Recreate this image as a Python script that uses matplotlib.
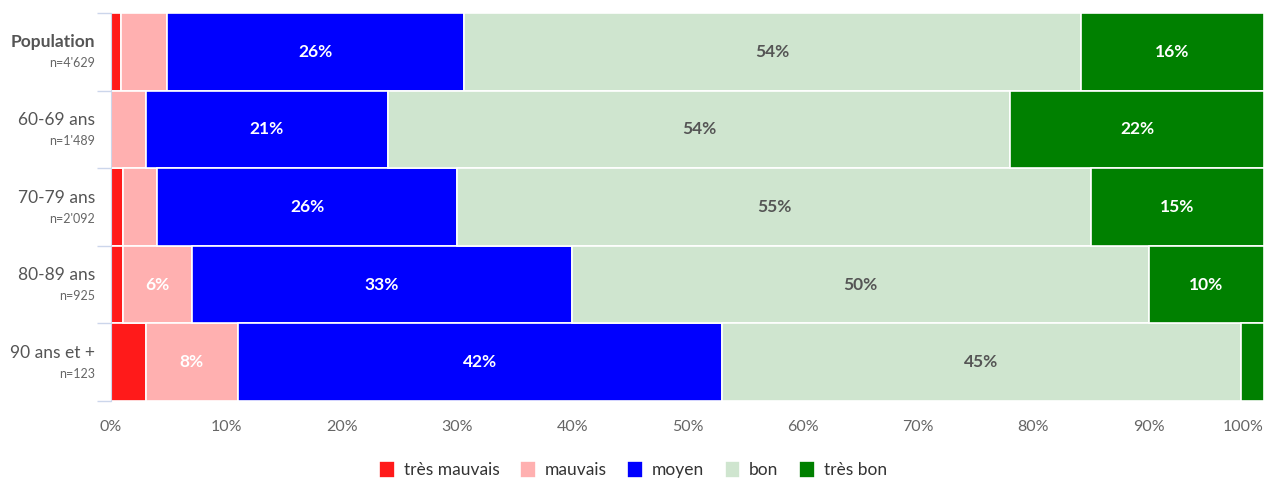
import numpy as np
import matplotlib.pyplot as plt
from matplotlib.transforms import blended_transform_factory

plt.rcParams['font.family'] = ['Lato', 'DejaVu Sans']

groups = ["Population", "60-69 ans", "70-79 ans", "80-89 ans", "90 ans et +"]
counts = ["n=4'629", "n=1'489", "n=2'092", "n=925", "n=123"]
categories = ["très mauvais", "mauvais", "moyen", "bon", "très bon"]
colors = ["#ff1a1a", "#ffb0b0", "#0000ff", "#cfe5cf", "#008000"]
label_colors = ["white", "white", "white", "#555555", "white"]

tres_mauvais = [0.9, 0.0, 1.0, 1.0, 3.0]
mauvais = [4.0, 3.0, 3.0, 6.0, 8.0]
moyen = [25.7, 21.0, 26.0, 33.0, 42.0]
bon = [53.5, 54.0, 55.0, 50.0, 45.0]
tres_bon = [15.9, 22.0, 15.0, 10.0, 2.0]
series = [tres_mauvais, mauvais, moyen, bon, tres_bon]

fig = plt.figure(figsize=(12.66, 4.82), dpi=100)
ax = fig.add_axes([111/1266, 81/482, 1153/1266, 388/482])

y = np.arange(len(groups))
left = np.zeros(len(groups))
for vals, col, lcol, name in zip(series, colors, label_colors, categories):
    vals = np.array(vals)
    ax.barh(y, vals, left=left, height=1.0, color=col, edgecolor='white',
            linewidth=1.2, label=name)
    for yi, v, l in zip(y, vals, left):
        if v >= 5:
            ax.text(l + v / 2, yi, "%d%%" % round(v), ha='center', va='center',
                    color=lcol, fontsize=12.5, fontweight='bold')
    left += vals

ax.set_xlim(0, 100)
ax.set_ylim(len(groups) - 0.5, -0.5)
ax.set_xticks(np.arange(0, 101, 10))
ax.set_xticklabels(["%d%%" % t for t in range(0, 101, 10)], color='#666666', fontsize=11.5)
ax.get_xticklabels()[-1].set_horizontalalignment('right')
ax.tick_params(axis='x', length=0, pad=14)

ax.set_yticks(np.arange(-0.5, len(groups), 1.0))
ax.set_yticklabels([])
ax.tick_params(axis='y', length=10, color='#ccd6eb', width=1)

for s in ['top', 'right', 'bottom']:
    ax.spines[s].set_visible(False)
ax.spines['left'].set_color('#ccd6eb')

tr = blended_transform_factory(fig.transFigure, ax.transData)
for i, (g, n) in enumerate(zip(groups, counts)):
    ax.text(95/1266, i - 0.12, g, transform=tr, ha='right', va='center',
            fontsize=12.5, color='#555555',
            fontweight='bold' if i == 0 else 'normal')
    ax.text(95/1266, i + 0.15, n, transform=tr, ha='right', va='center',
            fontsize=9, color='#666666')

leg = fig.legend(loc='lower center', bbox_to_anchor=(0.5, -0.025), ncol=5,
                 frameon=False, fontsize=12.5, handlelength=0.9, handleheight=1.1,
                 handletextpad=0.5, columnspacing=1.2)
for t in leg.get_texts():
    t.set_color('#333333')

plt.savefig("out.png", dpi=100)
